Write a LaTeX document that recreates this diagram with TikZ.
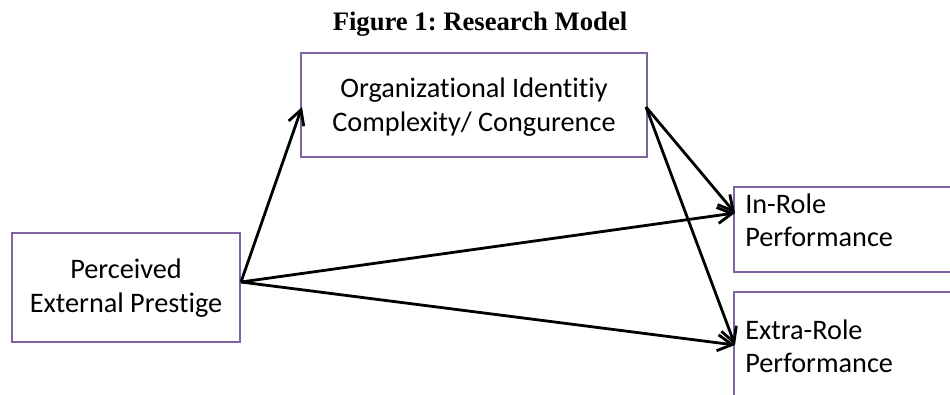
\documentclass[tikz,border=0pt]{standalone}
\usepackage{fontspec}
\setmainfont{Carlito}[Ligatures=NoCommon]
\newfontfamily\titlefont{Liberation Serif}
\usetikzlibrary{arrows.meta}
\definecolor{boxline}{RGB}{128,100,162}
\frenchspacing
\begin{document}
\begin{tikzpicture}[x=0.75pt,y=-0.75pt,
  box/.style={draw=boxline,line width=2.2pt,fill=white},
  lbl/.style={font=\fontsize{21.2}{25}\selectfont,align=center,inner sep=0pt},
  link/.style={line width=2.1pt,-{Straight Barb[length=11pt,width=12pt,line width=2.1pt]}}]
  \useasboundingbox (0,0) rectangle (950,394);
  % title
  \node[font=\titlefont\bfseries\fontsize{20}{24}\selectfont,anchor=base,inner sep=0pt] (title) at (480,30) {Figure 1: Research Model};
  % boxes
  \draw[box] (301,53) rectangle (647,157);
  \node[lbl] (oic) at (474,107) {Organizational Identitiy\\Complexity/ Congurence};
  \draw[box] (12,233) rectangle (240,342);
  \node[lbl] (pep) at (126,288) {Perceived\\External Prestige};
  \draw[box] (734,187) rectangle (960,272);
  \node[lbl,align=left,anchor=west] (irp) at (745,220) {In-Role\\Performance};
  \draw[box] (734,292) rectangle (960,400);
  \node[lbl,align=left,anchor=west] (erp) at (745,346) {Extra-Role\\Performance};
  % connection points on the box edges
  \coordinate (pepR) at (241,282);
  \coordinate (oicL) at (302,107);
  \coordinate (oicR) at (646,107);
  \coordinate (irpL) at (735,213);
  \coordinate (erpL) at (735,345);
  % paths
  \draw[link] (pepR) -- (oicL);
  \draw[link] (pepR) -- (irpL);
  \draw[link] (pepR) -- (erpL);
  \draw[link] (oicR) -- (irpL);
  \draw[link] (oicR) -- (erpL);
\end{tikzpicture}
\end{document}
